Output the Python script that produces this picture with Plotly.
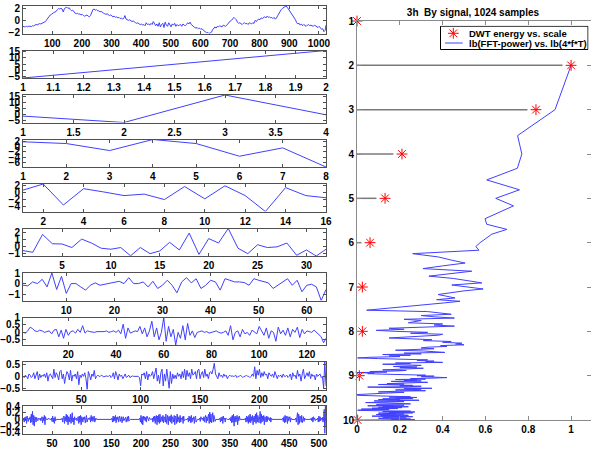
import math
import plotly.graph_objects as go

# ---------------- data ----------------
sig1 = [
    -0.9,-1.0,-0.95,-0.9,-1.0,-0.85,-0.9,-0.95,-0.8,-0.85,-0.7,-0.6,-0.65,-0.5,-0.45,-0.5,
    -0.4,-0.35,-0.3,-0.1,0.2,0.5,0.7,1.0,1.1,1.3,1.4,1.5,1.6,1.9,2.1,2.0,
    2.1,2.0,1.5,2.1,2.2,2.3,2.1,2.2,1.9,1.7,1.8,1.5,1.3,1.2,1.3,1.1,
    1.2,1.0,1.1,0.9,0.8,0.9,1.0,0.8,0.7,0.9,1.4,1.9,2.0,1.8,1.9,1.7,
    1.7,1.5,1.6,1.4,1.3,1.2,1.1,1.2,1.0,0.9,1.0,0.8,0.7,0.8,0.6,0.7,
    0.5,0.6,0.4,0.5,0.3,0.4,0.9,0.3,0.2,0.1,0.2,0.0,-0.1,0.0,-0.2,-0.3,
    -0.4,-0.3,-0.5,-0.6,-0.5,-0.7,-0.6,-0.8,-0.3,-0.6,-0.5,-0.7,-0.4,-0.6,-0.1,-0.5,
    -0.8,-0.5,-0.9,-0.3,-1.0,-0.6,-0.4,-1.1,-0.2,-0.7,-0.9,-0.3,-0.8,-1.0,-0.5,-0.7,
    -0.4,-0.9,-0.6,-0.8,-0.7,-0.6,-0.9,-0.5,-0.7,-0.8,-0.6,-0.3,-0.5,-0.2,-0.6,-0.8,
    -1.0,-1.1,-1.2,-1.1,-1.3,-1.2,-1.4,-1.3,-1.5,-1.7,-1.9,-2.0,-1.9,-2.1,-2.0,-1.9,
    -1.5,-1.3,-1.0,-1.2,-0.9,-1.0,-0.8,-0.9,-1.0,-0.7,-0.8,-0.9,-0.7,-0.4,-0.2,0.0,
    0.1,0.3,0.6,0.4,0.2,-0.2,-0.4,-0.3,-0.5,-0.6,-0.4,-0.3,-0.5,-0.4,-0.6,-0.3,
    -0.4,-0.5,-0.3,-0.4,0.1,-0.1,0.2,0.3,0.2,0.5,0.4,0.6,0.7,0.5,0.8,0.6,
    0.7,0.5,0.6,0.4,0.6,0.3,0.5,0.9,1.3,1.6,1.9,2.1,2.2,2.4,2.5,2.3,
    2.0,1.7,1.4,1.2,0.8,0.5,0.2,-0.3,-0.5,-0.4,-0.7,-0.5,-0.8,-0.6,-0.7,-0.9,
    -0.7,-0.6,-0.8,-0.7,-0.8,-0.9,-0.7,-0.8,-1.0,-1.1,-0.9,-1.2,-1.4,-1.3,-1.8,-1.6,
    -0.7,
]
sig1_x = list(range(1, 1022, 4)) + [1024]

d2 = [-6.3, 15.9]
d3 = [-1.4, -6.8, 16.4, -0.3]
d4 = [1.75, 1.1, -1.5, 2.6, 1.1, -3.6, -0.5, -7.6]
d5 = [0.6, 2.3, -3.5, 1.0, 0.1, -0.9, -0.5, -2.0, 1.6, -1.8, 1.8, -0.9, -5.3, 1.3, -0.9, -1.5]
d6 = [-0.63, -0.88, 1.66, 0.34, 0.3, -0.2, 1.0, 0.44, -0.3, -0.44, -0.2, -1.37, -0.2, -1.07, -0.68, 0.54,
      -0.54, 1.85, -1.17, 1.07, 0.44, 2.5, -0.3, -1.07, 0.2, -0.2, -0.1, 0.44, -1.3, -0.54, -1.4, -0.44]
d7 = [-0.13, -0.19, 0.19, 0.03, 0.44, -0.29, 1.05, -0.54, 0.73, -0.92, 0.03, 0.03, -0.29, -0.6, -0.13, 0.1,
      -0.13, -0.03, 0.03, 0.1, 0.25, 0.03, 0.6, 0.03, 0.03, 0.19, -0.29, 0.25, -0.44, -0.13, 0.35, -0.13,
      -0.86, 0.19, 0.6, 0.1, 0.5, -0.44, -0.13, 0.35, 0.19, -0.6, 0.5, 0.35, 0.19, 0.19, 0.13, -0.13,
      0.5, 0.35, 0.25, 0.1, -0.44, -0.13, 0.19, 0.5, -0.13, 0.35, -0.76, -0.13, -0.03, -0.29, -1.6, -0.54]
d8 = [0.0, -0.05, 0.1, 0.35, 0.25, 0.1, 0.05, 0.15, 0.1, 0.0,
      0.05, 0.1, -0.1, 0.15, 0.2, -0.3, 0.15, -0.4, 0.2, -0.2,
      0.05, 0.1, -0.05, 0.2, 0.0, 0.45, -0.05, 0.1, 0.05, 0.0,
      0.0, 0.05, 0.05, 0.0, 0.05, 0.1, 0.0, 0.05, 0.1, 0.0,
      0.15, -0.1, 0.55, -0.4, 0.3, -0.05, 0.0, 0.1, 0.05, 0.4,
      -0.1, 0.3, -0.3, 0.1, 0.75, -0.3, 0.3, -0.5, 0.0, 1.0,
      -0.6, 0.4, -0.3, 0.2, -0.85, 0.0, -0.4, 0.45, -0.5, 0.6,
      -0.2, 0.1, -0.35, 0.0, 0.05, 0.1, 0.0, 0.05, -0.05, 0.0,
      0.05, 0.1, 0.0, -0.05, 0.0, 0.1, -0.2, 0.45, -0.5, 0.0,
      0.1, -0.3, 0.2, -0.1, 0.0, -0.2, 0.15, 0.05, -0.1, 0.4,
      0.05, -0.2, 0.3, -0.4, 0.1, 0.0, -0.6, 0.35, -0.1, 0.15,
      -0.2, 0.3, -0.3, 0.2, 0.0, 0.35, -0.35, 0.2, -0.1, 0.1,
      0.05, 0.0, 0.15, 0.0, -0.2, -0.3, -0.7, -0.4]
d9 = [0.0, -0.05, 0.05, 0.0, -0.1, 0.1, 0.05, -0.05, 0.0, 0.15, -0.1, 0.05, 0.2, -0.15, 0.1, -0.05,
      0.05, 0.0, 0.1, -0.05, 0.15, -0.2, 0.05, 0.1, 0.0, -0.1, 0.3, -0.05, 0.15, 0.05, -0.15, 0.2,
      0.25, -0.1, 0.1, -0.3, 0.0, 0.2, 0.1, -0.15, 0.25, -0.2, 0.05, 0.0, 0.1, -0.1, 0.2, -0.35,
      0.05, -0.05, 0.1, 0.0, 0.15, -0.1, -0.55, 0.2, 0.05, -0.15, 0.1, 0.0, 0.25, -0.1, 0.0, 0.05,
      0.0, 0.0, 0.05, 0.0, -0.02, 0.0, 0.02, 0.0, 0.0, 0.05, -0.05, 0.0, 0.15, -0.1, 0.2, 0.05,
      -0.15, 0.1, 0.0, 0.05, -0.1, 0.0, 0.1, -0.05, 0.0, 0.05, -0.05, 0.0, 0.02, 0.0, 0.0, 0.0,
      0.0, 0.0, -0.05, -0.4, 0.1, 0.05, 0.15, -0.1, 0.2, -0.15, 0.1, 0.0, 0.05, 0.2, -0.1, 0.1,
      0.35, -0.2, 0.05, -0.3, 0.15, 0.3, -0.4, 0.1, -0.2, 0.3, -0.1, -0.5, 0.2, -0.3, 0.1, -0.1,
      0.05, -0.1, 0.15, 0.0, 0.1, -0.1, 0.2, -0.05, 0.3, -0.15, 0.25, 0.0, 0.15, -0.1, 0.3, 0.05,
      0.1, 0.2, -0.1, 0.25, 0.3, -0.1, 0.1, 0.2, -0.05, 0.3, 0.0, 0.1, -0.1, 0.15, 0.2, 0.1,
      0.3, 0.55, 0.1, 0.0, -0.1, 0.15, 0.0, 0.05, -0.05, 0.1, 0.0, 0.05, -0.1, 0.0, 0.05, 0.0,
      0.02, 0.0, 0.0, 0.05, -0.05, 0.0, 0.0, 0.05, 0.0, -0.05, 0.0, 0.0, 0.05, 0.0, 0.0, -0.05,
      0.0, 0.1, 0.0, 0.4, -0.1, 0.25, 0.05, 0.3, -0.05, 0.15, 0.0, 0.2, 0.05, 0.1, -0.1, 0.15,
      0.05, 0.0, 0.1, -0.05, 0.2, 0.0, -0.1, 0.05, 0.0, 0.05, -0.05, 0.1, 0.0, 0.0, 0.05, -0.05,
      0.0, 0.1, -0.15, 0.15, 0.0, 0.05, -0.1, 0.25, 0.0, 0.1, -0.2, 0.1, 0.3, -0.1, 0.05, 0.15,
      0.0, 0.2, -0.1, 0.1, 0.0, 0.05, -0.15, 0.1, 0.0, 0.05, 0.1, -0.05, 0.0, -0.5, 0.6, -0.4]
d10 = [
    0, 0.04, -0.08, 0.06, -0.04, 0.08, -0.12, 0.1, 0, -0.06, 0.04, 0, 0.08, -0.1, 0.16, -0.08,
    0.24, -0.16, 0.12, -0.2, 0.08, 0.04, -0.08, 0.06, 0, -0.04, 0.04, 0, 0, 0.04, -0.04, 0,
    0.08, -0.1, 0.06, -0.04, 0.12, -0.16, 0.08, 0, 0, 0, 0, 0.04, 0, 0, 0, 0,
    0.04, -0.06, 0.1, -0.08, 0.04, -0.12, 0.08, -0.04, 0, 0, 0, 0, 0, 0, 0, 0,
    0, 0, 0.04, -0.08, 0.06, 0.1, -0.12, 0.08, -0.04, 0.16, -0.08, 0.12, -0.16, 0.08, 0.04, -0.08,
    0.16, -0.12, 0.08, 0.2, -0.08, 0.04, -0.16, 0.08, 0, 0, 0.04, -0.04, 0, 0.08, -0.12, 0.1,
    -0.08, 0.12, -0.16, 0.08, 0.04, -0.08, 0.06, 0, 0.08, -0.1, 0.04, 0.12, -0.08, 0, 0.04, 0,
    0, 0.06, -0.08, 0.12, -0.04, 0.08, -0.06, 0.04, 0.1, -0.08, 0, 0.04, 0, 0, 0, 0,
    0, 0, 0, 0, 0, 0, 0, 0, 0, 0, 0, 0, 0, 0, 0, 0,
    0, 0, 0, 0, 0, 0, 0.04, -0.08, 0.1, -0.06, 0.08, -0.04, 0.12, -0.1, 0.06, 0,
    0.08, -0.08, 0.04, 0.1, -0.06, 0, 0.08, -0.1, 0.04, 0.08, -0.04, 0, 0, 0.06, -0.08, 0.04,
    0.08, -0.06, 0.1, -0.04, 0, 0, 0, 0, 0, 0, 0, 0, 0, 0, 0, 0,
    0, 0, 0, 0, 0, 0.04, -0.08, 0.12, -0.12, 0.08, -0.16, 0.1, 0, 0.08, -0.04, 0.06,
    -0.08, 0.1, 0.04, 0, -0.04, 0.06, 0, 0, 0, 0, 0.04, -0.08, 0.08, -0.04, 0.1, -0.12,
    0.08, 0.12, -0.16, 0.1, -0.08, 0.14, -0.12, 0.16, -0.08, 0.04, 0.08, -0.06, 0.12, -0.1, 0.08, 0.04,
    -0.08, 0.16, -0.12, 0.08, 0.12, -0.16, 0.08, -0.04, 0.1, -0.08, 0.14, -0.12, 0.08, 0.04, -0.08, 0.12,
    -0.16, 0.1, 0.08, -0.12, 0.16, -0.08, 0.04, 0.08, -0.1, 0.12, -0.08, 0.04, 0, 0.08, -0.12, 0.1,
    -0.04, 0, 0, 0, 0, 0, 0.04, -0.08, 0.1, -0.04, 0.08, -0.1, 0.12, -0.08, 0.04, 0,
    0.08, -0.12, 0.06, 0.1, -0.08, 0, 0, 0, 0, 0, 0.04, -0.06, 0.08, 0, 0, 0.04,
    -0.04, 0.08, -0.08, 0.06, 0.12, -0.1, 0.08, -0.04, 0.1, 0.16, -0.12, 0.22, -0.08, 0.16, -0.1, 0.08,
    0.2, -0.08, 0.12, 0.04, -0.06, 0, 0, 0, 0, 0, 0, 0, 0.04, -0.08, 0.06, -0.04,
    0.08, -0.12, 0.1, 0, 0.04, -0.08, 0.04, 0, 0, 0, 0, 0, 0, 0.04, -0.04, 0.08,
    -0.1, 0.12, -0.08, 0.16, -0.2, 0.08, 0.1, -0.08, 0.04, 0.12, -0.16, 0.08, -0.04, 0.1, 0, 0,
    0, 0, 0, 0, 0, 0, 0, 0.04, -0.08, 0.1, -0.06, 0.08, -0.12, 0.12, -0.08, 0.16,
    -0.1, 0.08, -0.04, 0.12, -0.16, 0.06, 0.1, -0.08, 0.16, -0.12, 0.2, -0.08, 0.12, 0.04, -0.1, 0.08,
    0.24, -0.12, 0.16, -0.08, 0.1, -0.04, 0.12, -0.16, 0.08, 0.04, -0.08, 0.1, -0.06, 0.08, 0, 0.04,
    -0.04, 0.06, -0.08, 0.04, 0, 0, 0, 0, 0, 0, 0, 0, 0, 0, 0, 0,
    0, 0, 0, 0, 0, 0, 0.04, -0.06, 0.08, -0.1, 0.12, -0.08, 0.04, 0.1, -0.12, 0.08,
    -0.04, 0.06, 0.08, -0.08, 0.04, 0, 0, 0, 0, 0, 0, 0, 0.04, -0.08, 0.08, 0.2,
    -0.16, 0.16, -0.12, 0.1, 0.08, -0.08, 0.12, -0.1, 0.04, 0.08, -0.06, 0.04, 0, 0, 0, 0,
    0, 0, 0, 0, 0, 0, 0.04, -0.04, 0.06, -0.08, 0.08, 0, 0.04, -0.04, 0, 0,
    0, 0.04, -0.08, 0.1, -0.06, 0.08, -0.04, 0.04, 0, 0.06, -0.08, 0.08, 0.3, -0.42, 0.4, -0.2,
]

panel_data = [d2, d3, d4, d5, d6, d7, d8, d9, d10]

xticks = [
    [100, 200, 300, 400, 500, 600, 700, 800, 900, 1000],
    [1, 1.1, 1.2, 1.3, 1.4, 1.5, 1.6, 1.7, 1.8, 1.9, 2],
    [1, 1.5, 2, 2.5, 3, 3.5, 4],
    [1, 2, 3, 4, 5, 6, 7, 8],
    [2, 4, 6, 8, 10, 12, 14, 16],
    [5, 10, 15, 20, 25, 30],
    [10, 20, 30, 40, 50, 60],
    [20, 40, 60, 80, 100, 120],
    [50, 100, 150, 200, 250],
    [50, 100, 150, 200, 250, 300, 350, 400, 450, 500],
]
yticks = [
    [-2, 0, 2],
    [-5, 0, 5, 10, 15],
    [-5, 0, 5, 10, 15],
    [-6, -4, -2, 0, 2],
    [-4, -2, 0, 2],
    [-1, 0, 1, 2],
    [-1, 0, 1],
    [-0.5, 0, 0.5, 1],
    [-0.5, 0, 0.5],
    [-0.4, -0.2, 0, 0.2, 0.4],
]

# right panel: DWT energy per scale and normalised FFT power
dwt_scale = [1, 2, 3, 4, 5, 6, 7, 8, 9, 10]
dwt_energy = [0.0, 1.0, 0.836, 0.21, 0.131, 0.061, 0.025, 0.025, 0.011, 0.003]

fft_power = [
    1.0, 0.925, 0.75, 0.77, 0.749, 0.606, 0.759, 0.648, 0.731, 0.66,
    0.598, 0.606, 0.70, 0.63, 0.60, 0.575, 0.555, 0.57, 0.26, 0.38,
    0.44, 0.505, 0.40, 0.308, 0.536, 0.44, 0.336, 0.45, 0.53, 0.583,
    0.443, 0.52, 0.589, 0.50, 0.44, 0.379, 0.42, 0.458, 0.372, 0.481,
    0.41, 0.33, 0.26, 0.17, 0.11, 0.045, 0.33, 0.38, 0.44, 0.30, 0.36, 0.455,
    0.22, 0.30, 0.27, 0.24, 0.40, 0.36, 0.455, 0.28, 0.15, 0.22, 0.09, 0.18,
    0.33, 0.25, 0.40, 0.38, 0.29, 0.19, 0.15, 0.26, 0.35, 0.31, 0.44, 0.40,
    0.49, 0.46, 0.50, 0.39, 0.42, 0.33, 0.30, 0.36, 0.28, 0.18, 0.31, 0.38,
    0.41, 0.22, 0.30, 0.12, 0.25, 0.15, 0.20, 0.06, 0.003, 0.10, 0.22, 0.33,
    0.28, 0.36, 0.32, 0.40, 0.18, 0.25, 0.12, 0.22, 0.30, 0.26, 0.17, 0.28,
    0.20, 0.31, 0.24, 0.15, 0.12, 0.23, 0.18, 0.06, 0.14, 0.0, 0.08, 0.05,
    0.12, 0.20, 0.32, 0.28, 0.36, 0.30, 0.40, 0.42, 0.35, 0.25, 0.32, 0.18,
    0.28, 0.22, 0.30, 0.16, 0.24, 0.33, 0.19, 0.27, 0.14, 0.22, 0.10, 0.18,
    0.26, 0.20, 0.30, 0.24, 0.05, 0.15, 0.28, 0.35, 0.22, 0.30, 0.26, 0.18,
    0.24, 0.32, 0.20, 0.15, 0.10, 0.22, 0.17, 0.12, 0.05, 0.08, 0.02, 0.0,
    0.0, 0.003, 0.06, 0.12, 0.20, 0.25, 0.15, 0.28, 0.22, 0.18, 0.26, 0.12,
    0.20, 0.10, 0.24, 0.29, 0.18, 0.08, 0.14, 0.22, 0.06, 0.16, 0.04, 0.12,
    0.2, 0.15, 0.25, 0.11, 0.18, 0.09, 0.22, 0.14, 0.05, 0.17, 0.12, 0.24,
    0.16, 0.10, 0.21, 0.13, 0.07, 0.19, 0.11, 0.02, 0.15, 0.08, 0.01, 0.003,
    0.06, 0.14, 0.25, 0.18, 0.12, 0.27, 0.20, 0.15, 0.26, 0.10, 0.18, 0.13,
    0.22, 0.16, 0.09, 0.20, 0.14, 0.24, 0.11, 0.17, 0.07, 0.15, 0.26, 0.19,
    0.12, 0.21, 0.15, 0.23, 0.10, 0.18, 0.13, 0.25, 0.16, 0.20, 0.27, 0.03,
]
fft_k = list(range(1, len(fft_power) + 1))
fft_lb = [math.log2(4 * k) for k in fft_k]

title_text = "3h  By signal, 1024 samples"
legend_names = ["DWT energy vs. scale", "lb(FFT-power) vs. lb(4*f*T)"]

# ---------------- layout helpers ----------------
W, H = 591, 450
FONT = dict(family="Liberation Sans, Arial, sans-serif", size=10, color="black", weight="bold")
LEG_FONT = dict(FONT, size=9.5)
LINE_BLUE = "#4040ff"
AX_COL = "#505050"

left_x0, left_x1 = 23, 326
tops = [6.0, 50.5, 95.0, 139.5, 184.0, 228.5, 273.0, 317.5, 362.0, 406.0]
ph = 27.5

fig = go.Figure()
layout = dict(
    width=W, height=H, margin=dict(l=0, r=0, t=0, b=0, autoexpand=False),
    paper_bgcolor="white", plot_bgcolor="white", font=FONT, showlegend=False,
)

all_x = [sig1_x] + [list(range(1, len(d) + 1)) for d in panel_data]
all_y = [sig1] + panel_data

for i in range(10):
    n = "" if i == 0 else str(i + 1)
    xs, ys = all_x[i], all_y[i]
    fig.add_trace(go.Scatter(x=xs, y=ys, mode="lines", line=dict(color=LINE_BLUE, width=1),
                             xaxis="x" + n, yaxis="y" + n, showlegend=False, hoverinfo="skip"))
    common = dict(showline=True, linecolor=AX_COL, linewidth=1, mirror="allticks", ticks="inside",
                  ticklen=3, tickcolor=AX_COL, showgrid=False, zeroline=False, tickfont=FONT,
                  automargin=False)
    layout["xaxis" + n] = dict(domain=[left_x0 / W, left_x1 / W], range=[min(xs), max(xs)],
                               tickmode="array", tickvals=xticks[i], anchor="y" + n, **common)
    layout["yaxis" + n] = dict(domain=[1 - (tops[i] + ph) / H, 1 - tops[i] / H],
                               range=[min(ys), max(ys)], tickmode="array", tickvals=yticks[i],
                               anchor="x" + n, **common)

# right panel
rx, ry = "x11", "y11"
stem_x, stem_y = [], []
for s, e in zip(dwt_scale, dwt_energy):
    if e > 0.04:
        stem_x += [0, e - 0.04, None]
        stem_y += [s, s, None]
fig.add_trace(go.Scatter(x=stem_x, y=stem_y, mode="lines", line=dict(color="#7a7a7a", width=1.5),
                         xaxis=rx, yaxis=ry, showlegend=False, hoverinfo="skip"))
fig.add_trace(go.Scatter(x=fft_power, y=fft_lb, mode="lines", name=legend_names[1],
                         line=dict(color=LINE_BLUE, width=1), xaxis=rx, yaxis=ry))
STAR = dict(symbol="asterisk-open", size=9, color="red", line=dict(color="red", width=1))
fig.add_trace(go.Scatter(x=dwt_energy, y=dwt_scale, mode="markers", name=legend_names[0],
                         marker=STAR, xaxis=rx, yaxis=ry, cliponaxis=False))

rcommon = dict(showline=True, linecolor="#8a8a8a", linewidth=1, mirror="allticks", ticks="inside",
               ticklen=4, tickcolor="#8a8a8a", showgrid=False, zeroline=False, tickfont=FONT,
               automargin=False)
layout["xaxis11"] = dict(domain=[357 / W, 1.0], range=[0, 1.093], tickmode="array",
                         tickvals=[0, 0.2, 0.4, 0.6, 0.8, 1], anchor=ry, **rcommon)
layout["yaxis11"] = dict(domain=[1 - 420 / H, 1 - 21 / H], range=[10, 1], tickmode="array",
                         tickvals=dwt_scale, anchor=rx, **rcommon)

# legend box (MATLAB style), drawn on a helper axis measured in pixels of the box
lx0, lx1, ly0, ly1 = 440, 588.5, 25.7, 50
layout["xaxis12"] = dict(domain=[lx0 / W, lx1 / W], range=[lx0, lx1], visible=False, fixedrange=True)
layout["yaxis12"] = dict(domain=[1 - ly1 / H, 1 - ly0 / H], range=[ly1, ly0], visible=False,
                         fixedrange=True)
row_y = [33.3, 43.0]
fig.add_trace(go.Scatter(x=[453.3], y=[row_y[0]], mode="markers", marker=STAR,
                         xaxis="x12", yaxis="y12", showlegend=False, hoverinfo="skip"))
fig.add_trace(go.Scatter(x=[445, 462.7], y=[row_y[1], row_y[1]], mode="lines",
                         line=dict(color=LINE_BLUE, width=1),
                         xaxis="x12", yaxis="y12", showlegend=False, hoverinfo="skip"))
layout["shapes"] = [dict(type="rect", xref="x12", yref="y12", x0=lx0 + 0.5, x1=lx1 - 0.5,
                         y0=ly0 + 0.5, y1=ly1 - 0.5, line=dict(color="black", width=1),
                         fillcolor="white", layer="below")]
layout["annotations"] = [
    dict(xref="x12", yref="y12", x=466.5, y=row_y[j], text=legend_names[j], showarrow=False,
         xanchor="left", yanchor="middle", font=LEG_FONT)
    for j in range(2)
]

layout["title"] = dict(text=title_text, x=473 / W, xanchor="center", y=1 - 12 / H, yanchor="middle",
                       font=dict(family=FONT["family"], size=10, color="black", weight="bold"))

fig.update_layout(**layout)
fig.write_html("out.html", config={"displayModeBar": False},
               post_script="document.body.style.margin='0px';document.body.style.overflow='hidden';")
